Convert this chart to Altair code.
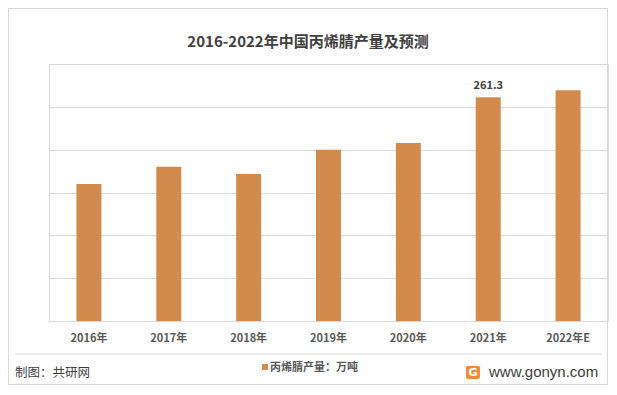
import altair as alt
import pandas as pd

years = ["2016年", "2017年", "2018年", "2019年", "2020年", "2021年", "2022年E"]
values = [160.0, 180.0, 171.5, 200.0, 207.7, 261.3, 269.5]
labels = ["", "", "", "", "", "261.3", ""]

title_text = "2016-2022年中国丙烯腈产量及预测"
legend_text = "丙烯腈产量：万吨"
source_text = "制图：共研网"
site_text = "www.gonyn.com"

FONT = "Noto Sans CJK SC"
BAR = "#D38B4D"
GRID = "#D9D9D9"
TXT = "#404040"

df = pd.DataFrame({"year": years, "value": values, "label": labels})

x_enc = alt.X("year:N", sort=years, title=None,
              scale=alt.Scale(paddingInner=0.69, paddingOuter=0.345),
              axis=alt.Axis(labelAngle=0, labelFont=FONT, labelFontSize=11,
                            labelFontWeight="bold", labelColor="#595959",
                            labelPadding=11, ticks=False, domain=True,
                            domainColor=GRID, grid=False))
y_enc = alt.Y("value:Q", title=None,
              scale=alt.Scale(domain=[0, 300], nice=False),
              axis=alt.Axis(values=[0, 50, 100, 150, 200, 250, 300], labels=False,
                            ticks=False, domain=False, grid=True, gridColor=GRID))

base = alt.Chart(df)
bars = base.mark_bar(color=BAR, size=25).encode(x=x_enc, y=y_enc)
lbl = base.transform_filter(alt.datum.label != "").mark_text(
    font=FONT, fontSize=11, fontWeight="bold", color=TXT, baseline="bottom", dy=-6
).encode(x=alt.X("year:N", sort=years), y="value:Q", text="label:N")

one = pd.DataFrame({"k": [0]})
ob = alt.Chart(one)

border = ob.mark_rect(fill=None, stroke=GRID, strokeWidth=1).encode(
    x=alt.value(-40.5), x2=alt.value(558.5), y=alt.value(-55.5), y2=alt.value(320.5))
sep = ob.mark_rule(color=GRID, strokeWidth=1).encode(
    x=alt.value(-34), x2=alt.value(553), y=alt.value(290), y2=alt.value(290))
title = ob.mark_text(text=title_text, font=FONT, fontSize=15, fontWeight="bold",
                     color=TXT, align="center", baseline="middle").encode(
    x=alt.value(259), y=alt.value(-22))
leg_sq = ob.mark_rect(color=BAR).encode(
    x=alt.value(213), x2=alt.value(219), y=alt.value(300), y2=alt.value(306))
leg_tx = ob.mark_text(text=legend_text, font=FONT, fontSize=11, fontWeight="bold",
                      color="#595959", align="left", baseline="middle").encode(
    x=alt.value(221), y=alt.value(303.5))
src = ob.mark_text(text=source_text, font=FONT, fontSize=12.5, color=TXT,
                   align="left", baseline="middle").encode(
    x=alt.value(-34), y=alt.value(309))
logo = ob.mark_rect(color="#F08A3C", cornerRadius=2).encode(
    x=alt.value(417), x2=alt.value(431), y=alt.value(302), y2=alt.value(315))
logo_g = ob.mark_text(text="G", font="DejaVu Sans", fontSize=11, fontWeight="bold",
                      color="white", align="center", baseline="middle").encode(
    x=alt.value(424), y=alt.value(308.5))
site = ob.mark_text(text=site_text, font="Liberation Sans", fontSize=15, color=TXT,
                    align="left", baseline="middle").encode(
    x=alt.value(440), y=alt.value(308))

chart = alt.layer(border, sep, bars, lbl, title, leg_sq, leg_tx, src, logo, logo_g, site).properties(
    width=559, height=257,
    autosize=alt.AutoSizeParams(type="none"),
    padding={"left": 41, "top": 56, "right": 1, "bottom": 66},
).configure_view(stroke=None).configure(background="white")

chart.save("out.html", embed_options={"renderer": "svg", "actions": False})
